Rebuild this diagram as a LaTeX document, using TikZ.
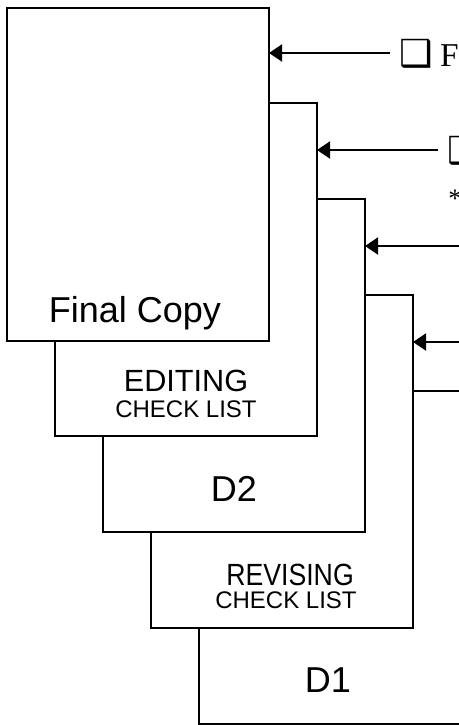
\documentclass[tikz,border=0pt]{standalone}
\usepackage{fontspec}
\setmainfont{Liberation Serif}
\newfontfamily\arialfont{Liberation Sans}
\newfontfamily\dingfont{DejaVu Sans}
\usetikzlibrary{arrows.meta,calc}
\tikzset{
  page/.style={draw,fill=white,line width=1.5pt,inner sep=0pt,outer sep=0pt,
    minimum width=196.5pt,minimum height=249.75pt,anchor=north west},
  lbl/.style={anchor=base,inner sep=0pt},
  arr/.style={->,line width=1.5pt},
  note/.style={anchor=base west,inner sep=0pt},
  big/.style={font=\arialfont\fontsize{27}{27}\selectfont},
  mid/.style={font=\arialfont\fontsize{23}{23}\selectfont},
  sml/.style={font=\arialfont\fontsize{18}{18}\selectfont}
}
\newcommand{\tickbox}{{\dingfont\fontsize{28}{28}\selectfont ❑}}
\begin{document}
\begin{tikzpicture}[x=0.75pt,y=-0.75pt,>={Triangle[length=9.75pt,width=12.75pt]}]
  \useasboundingbox (0,0) rectangle (458,725);
  % pages, last draft at the back
  \node[page] (dA) at (199,391) {};
  \node[page] (rev) at (151,295) {};
  \node[page] (dB) at (103,199) {};
  \node[page] (edit) at (55,103) {};
  \node[page] (final) at (7,8) {};
  % labels
  \node[lbl,big] (finaltxt) at ($(final.south)+(-3,-19)$) {Final Copy};
  \node[lbl,mid] (editA) at ($(edit.south)+(0,-45)$) {EDITING};
  \node[lbl,sml] (editB) at ($(edit.south)+(0,-19)$) {CHECK LIST};
  \node[lbl,big] (dBtxt) at ($(dB.south)+(0,-31)$) {D2};
  \node[lbl,mid] (revA) at ($(rev.south)+(8,-43)$) {\scalebox{0.87}[1]{REVISING}};
  \node[lbl,sml] (revB) at ($(rev.south)+(4,-20)$) {CHECK LIST};
  \node[lbl,big] (dAtxt) at ($(dA.south)+(-2,-32)$) {D1};
  % arrows from the notes
  \coordinate (fromA) at (390,53);
  \coordinate (fromB) at (438,150);
  \coordinate (fromC) at (486,246);
  \coordinate (fromD) at (534,342);
  \draw[arr] (fromA) -- (fromA -| final.east);
  \draw[arr] (fromB) -- (fromB -| edit.east);
  \draw[arr] (fromC) -- (fromC -| dB.east);
  \draw[arr] (fromD) -- (fromD -| rev.east);
  % notes
  \node[note,font=\fontsize{25}{25}\selectfont] (noteA) at (399,66) {\tickbox\hspace{5.5pt}F};
  \node[note,font=\fontsize{25}{25}\selectfont] (noteB) at (447,163) {\tickbox};
  \node[note,font=\fontsize{20}{20}\selectfont] (star) at (448,207) {*};
\end{tikzpicture}
\end{document}
